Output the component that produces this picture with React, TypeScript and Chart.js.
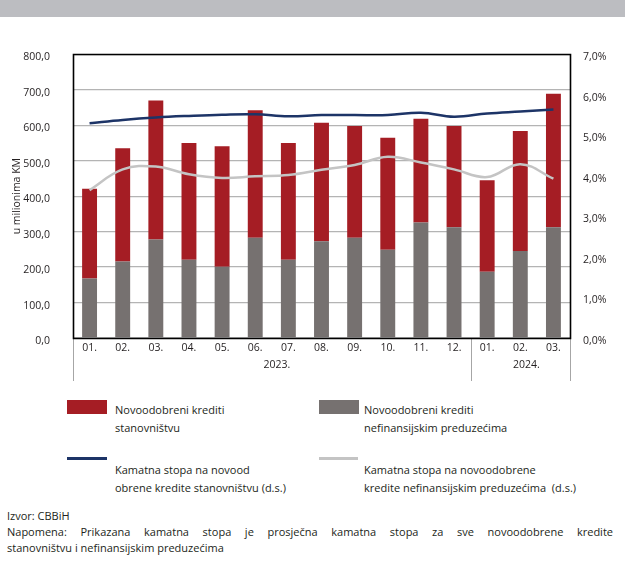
import React, { useEffect, useRef } from "react";
import { Chart, registerables } from "chart.js";

Chart.register(...registerables);

const months = ["01.", "02.", "03.", "04.", "05.", "06.", "07.", "08.", "09.", "10.", "11.", "12.", "01.", "02.", "03."];
const years = ["2023.", "2024."];
const loansCompanies = [168, 216, 278, 221, 201, 283, 221, 273, 283, 249, 326, 312, 187, 245, 312];
const loansHouseholds = [253, 319, 392, 329, 340, 359, 329, 334, 315, 316, 292, 286, 258, 339, 377];
const rateHouseholds = [5.30, 5.38, 5.44, 5.48, 5.51, 5.52, 5.47, 5.50, 5.50, 5.50, 5.56, 5.46, 5.54, 5.59, 5.64];
const rateCompanies = [3.65, 4.16, 4.23, 4.04, 3.95, 3.99, 4.02, 4.15, 4.27, 4.47, 4.33, 4.16, 3.97, 4.29, 3.93];

const FONT = "'Open Sans', 'Noto Sans', sans-serif";
const TEXT = "#231f20";
const RED = "#a51d24";
const GRAY = "#767170";
const BLUE = "#1d3467";
const LGRAY = "#c4c4c4";

const framePlugin = {
  id: "frame",
  afterDraw(chart: any) {
    const { ctx, chartArea, scales } = chart;
    const { left, right, top, bottom } = chartArea;
    const x = scales.x;
    const sep = (x.getPixelForValue(11) + x.getPixelForValue(12)) / 2;
    ctx.save();
    ctx.strokeStyle = "#a6a6a6";
    ctx.lineWidth = 1;
    [left, sep, right].forEach((px: number) => {
      const xx = Math.round(px) + 0.5;
      ctx.beginPath();
      ctx.moveTo(xx, bottom);
      ctx.lineTo(xx, bottom + 43);
      ctx.stroke();
    });
    ctx.strokeStyle = "#000";
    ctx.lineWidth = 1.6;
    ctx.beginPath();
    ctx.rect(Math.round(left) + 0.5, Math.round(top) + 0.5, Math.round(right - left), Math.round(bottom - top));
    ctx.stroke();
    ctx.fillStyle = TEXT;
    ctx.font = `10.5px ${FONT}`;
    ctx.textAlign = "center";
    ctx.textBaseline = "middle";
    ctx.fillText(years[0], (left + sep) / 2 + 5, bottom + 27);
    ctx.fillText(years[1], (sep + right) / 2 + 6, bottom + 27);
    ctx.restore();
  },
};

function ChartBox() {
  const ref = useRef<HTMLCanvasElement>(null);
  useEffect(() => {
    if (!ref.current) return;
    const chart = new Chart(ref.current, {
      type: "bar",
      data: {
        labels: months,
        datasets: [
          {
            type: "line",
            label: "Kamatna stopa na novoodobrene kredite stanovništvu (d.s.)",
            data: rateHouseholds,
            yAxisID: "y1",
            borderColor: BLUE,
            borderWidth: 2.5,
            pointRadius: 0,
            tension: 0.4,
            order: 0,
          } as any,
          {
            type: "line",
            label: "Kamatna stopa na novoodobrene kredite nefinansijskim preduzećima (d.s.)",
            data: rateCompanies,
            yAxisID: "y1",
            borderColor: LGRAY,
            borderWidth: 2.5,
            pointRadius: 0,
            tension: 0.4,
            order: 0,
          } as any,
          {
            type: "bar",
            label: "Novoodobreni krediti nefinansijskim preduzećima",
            data: loansCompanies,
            backgroundColor: GRAY,
            yAxisID: "y",
            stack: "s",
            order: 1,
            categoryPercentage: 1,
            barPercentage: 0.45,
          } as any,
          {
            type: "bar",
            label: "Novoodobreni krediti stanovništvu",
            data: loansHouseholds,
            backgroundColor: RED,
            yAxisID: "y",
            stack: "s",
            order: 1,
            categoryPercentage: 1,
            barPercentage: 0.45,
          } as any,
        ],
      },
      options: {
        animation: false,
        responsive: false,
        maintainAspectRatio: false,
        layout: { padding: { top: 24, left: 0, right: 0, bottom: 0 } },
        plugins: { legend: { display: false }, tooltip: { enabled: false } },
        scales: {
          x: {
            stacked: true,
            grid: { display: false, drawTicks: false },
            border: { display: false },
            ticks: { color: TEXT, font: { family: FONT, size: 10.5 }, padding: 4, maxRotation: 0, autoSkip: false },
            afterFit: (s: any) => { s.height = 57; },
          },
          y: {
            position: "left",
            stacked: true,
            min: 0,
            max: 800,
            grid: { color: "#b4b4b4", lineWidth: 1.3, drawTicks: false },
            border: { display: false },
            ticks: {
              stepSize: 100,
              color: TEXT,
              font: { family: FONT, size: 10.5 },
              padding: 23,
              labelOffset: 3,
              callback: (v: any) => Number(v).toFixed(1).replace(".", ","),
            },
            title: {
              display: true,
              text: "u milionima KM",
              color: TEXT,
              font: { family: FONT, size: 10.5 },
              padding: { top: 11, bottom: 0 },
            },
            afterFit: (s: any) => { s.width = 73; },
          },
          y1: {
            position: "right",
            min: 0,
            max: 7,
            grid: { display: false, drawTicks: false },
            border: { display: false },
            ticks: {
              stepSize: 1,
              color: TEXT,
              font: { family: FONT, size: 10.5 },
              padding: 13,
              labelOffset: 3,
              callback: (v: any) => Number(v).toFixed(1).replace(".", ",") + "%",
            },
            afterFit: (s: any) => { s.width = 55; },
          },
        },
      } as any,
      plugins: [framePlugin],
    });
    return () => chart.destroy();
  }, []);
  return <canvas ref={ref} width={625} height={370} style={{ position: "absolute", left: 0, top: 25, width: 625, height: 370 }} />;
}

const txt: React.CSSProperties = { position: "absolute", fontFamily: FONT, fontSize: 11, color: TEXT, lineHeight: "18px", whiteSpace: "nowrap" };

export default function App() {
  return (
    <div style={{ position: "absolute", left: 0, top: 0, width: 625, height: 562, background: "#fff", overflow: "hidden" }}>
      <div style={{ position: "absolute", left: 0, top: 0, width: 625, height: 17, background: "#bcbdc1" }} />
      <ChartBox />
      <div style={{ position: "absolute", left: 67, top: 400, width: 40, height: 14, background: RED }} />
      <div style={{ ...txt, left: 115, top: 401 }}>Novoodobreni krediti<br />stanovništvu</div>
      <div style={{ position: "absolute", left: 319, top: 400, width: 40, height: 14, background: GRAY }} />
      <div style={{ ...txt, left: 364, top: 401 }}>Novoodobreni krediti<br />nefinansijskim preduzećima</div>
      <div style={{ position: "absolute", left: 67, top: 457, width: 40, height: 3, background: BLUE }} />
      <div style={{ ...txt, left: 115, top: 461 }}>Kamatna stopa na novood<br />obrene kredite stanovništvu (d.s.)</div>
      <div style={{ position: "absolute", left: 319, top: 457, width: 39, height: 3, background: LGRAY }} />
      <div style={{ ...txt, left: 364, top: 461 }}>Kamatna stopa na novoodobrene<br />kredite nefinansijskim preduzećima&nbsp; (d.s.)</div>
      <div style={{ position: "absolute", left: 7, top: 508, width: 606, fontFamily: FONT, fontSize: 11, color: TEXT, lineHeight: "16px" }}>
        <div>Izvor: CBBiH</div>
        <div style={{ textAlign: "justify", textAlignLast: "justify" }}>Napomena: Prikazana kamatna stopa je prosječna kamatna stopa za sve novoodobrene kredite</div>
        <div>stanovništvu i nefinansijskim preduzećima</div>
      </div>
    </div>
  );
}
